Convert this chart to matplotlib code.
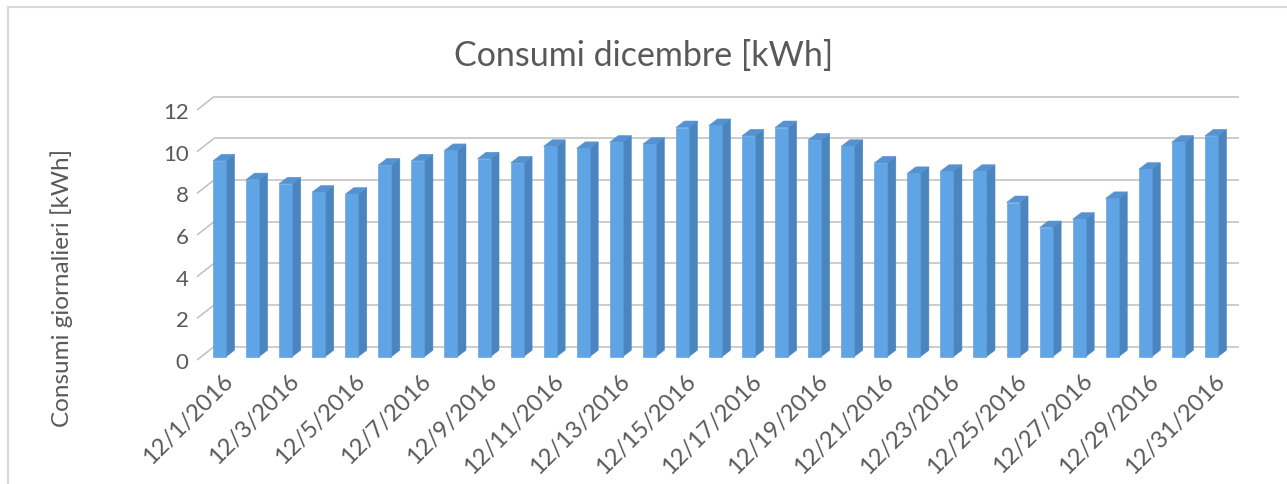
import matplotlib
matplotlib.use("Agg")
import matplotlib.pyplot as plt
from matplotlib.patches import Polygon, Rectangle
import numpy as np

# ---- data ----
days = list(range(1, 32))
date_labels = [f"12/{d}/2016" for d in days]
consumi = [9.4, 8.5, 8.3, 7.9, 7.8, 9.2, 9.4, 9.9, 9.5, 9.3,
           10.1, 10.0, 10.3, 10.2, 11.0, 11.1, 10.6, 11.0, 10.4, 10.1,
           9.3, 8.8, 8.9, 8.9, 7.4, 6.2, 6.6, 7.6, 9.0, 10.3, 10.6]
y_ticks = [0, 2, 4, 6, 8, 10, 12]
title = "Consumi dicembre [kWh]"
ylabel = "Consumi giornalieri [kWh]"

# ---- style ----
plt.rcParams['font.family'] = ['Lato', 'DejaVu Sans']
TXT = '#595959'
GRID = '#bfbfbf'
FRONT = '#5fa5e6'
SIDE = '#4a85bf'
TOP = '#5592d2'

W, H = 1287, 485
fig = plt.figure(figsize=(W / 100, H / 100), dpi=100)

# axes = floor-front plane in pixels
L, R, T, B = 197, 1222, 111, 361
ax = fig.add_axes([L / W, (H - B) / H, (R - L) / W, (B - T) / H])
n = len(consumi)
ax.set_xlim(0, n)
ax.set_ylim(0, 12)
pxx = (R - L) / n
pxy = (B - T) / 12.0

# offsets (data units)
back_dx, back_dy = 17 / pxx, 13.3 / pxy
bar_x0, bar_w = 16 / pxx, 13 / pxx
bar_b = 3.3 / pxy
dd_x, dd_y = 8.5 / pxx, 6.5 / pxy

for s in ax.spines.values():
    s.set_visible(False)
ax.set_facecolor('none')

# gridlines on back wall + side diagonal
for v in y_ticks:
    ax.plot([0, back_dx], [v, v + back_dy], color=GRID, lw=1.1, zorder=1,
            clip_on=False, solid_capstyle='butt')
    ax.plot([back_dx, n + back_dx], [v + back_dy, v + back_dy], color=GRID,
            lw=1.1, zorder=1, clip_on=False, solid_capstyle='butt')

# 3D-like columns
x = np.arange(n)
ax.bar(x + bar_x0, consumi, width=bar_w, bottom=bar_b, align='edge',
       color=FRONT, edgecolor='#5a9ad6', linewidth=0.4, zorder=3, clip_on=False)
for i, v in enumerate(consumi):
    xl = i + bar_x0
    xr = xl + bar_w
    top = bar_b + v
    side = Polygon([(xr, bar_b), (xr, top), (xr + dd_x, top + dd_y),
                    (xr + dd_x, bar_b + dd_y)], closed=True,
                   facecolor=SIDE, edgecolor=SIDE, lw=0.4, zorder=2.5, clip_on=False)
    topf = Polygon([(xl, top), (xr, top), (xr + dd_x, top + dd_y),
                    (xl + dd_x, top + dd_y)], closed=True,
                   facecolor=TOP, edgecolor=TOP, lw=0.4, zorder=2.6, clip_on=False)
    ax.add_patch(side)
    ax.add_patch(topf)

# ticks
ax.set_yticks(y_ticks)
ax.set_yticklabels([str(t) for t in y_ticks])
ax.tick_params(axis='y', length=0, pad=6, labelsize=16, labelcolor=TXT)

sel = list(range(0, n, 2))
ax.set_xticks([i + 0.98 for i in sel])
ax.set_xticklabels([date_labels[i] for i in sel], rotation=45, ha='right',
                   va='center', rotation_mode='anchor')
ax.tick_params(axis='x', length=0, pad=12, labelsize=17, labelcolor=TXT)

# titles
fig.text(644 / W, 1 - 56 / H, title, ha='center', va='center',
         fontsize=24.5, color=TXT)
fig.text(62 / W, 1 - 288 / H, ylabel, ha='center', va='center',
         rotation=90, fontsize=17.5, color=TXT)

# chart border
fig.add_artist(Rectangle((7.5 / W, -0.1), 1.2, 1.1 - 7.5 / H,
                         transform=fig.transFigure, fill=False,
                         edgecolor='#d9d9d9', lw=1.5))

fig.savefig("out.png", dpi=100, facecolor='white')
